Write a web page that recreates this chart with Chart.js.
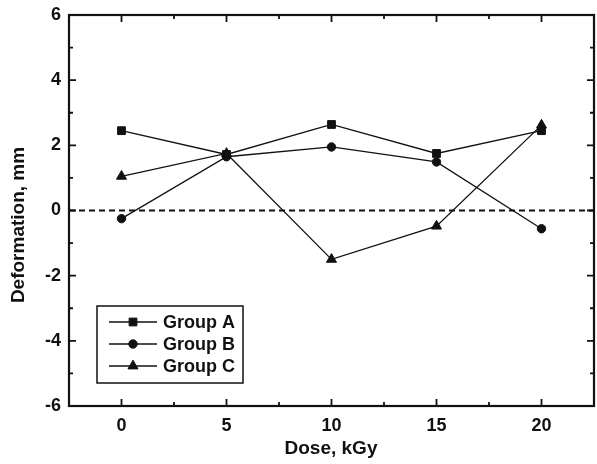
<!DOCTYPE html>
<html>
<head>
<meta charset="utf-8">
<script src="https://cdn.jsdelivr.net/npm/chart.js@4.4.1/dist/chart.umd.min.js"></script>
<style>
  body { margin: 0; background: #fff; }
  #wrap { width: 597px; height: 464px; }
</style>
</head>
<body>
<div id="wrap"><canvas id="chart"></canvas></div>
<script>
// data
const doses = [0, 5, 10, 15, 20];
const groupA = [2.45, 1.72, 2.64, 1.75, 2.45];
const groupB = [-0.25, 1.65, 1.95, 1.49, -0.56];
const groupC = [1.05, 1.75, -1.5, -0.48, 2.62];
const xTickLabels = [0, 5, 10, 15, 20];
const yTickLabels = [-6, -4, -2, 0, 2, 4, 6];

const FONT = "'Liberation Sans', Arial, sans-serif";

const seriesInfo = [
  { label: "Group A", data: groupA, style: "rect", radius: 5.5 },
  { label: "Group B", data: groupB, style: "circle", radius: 4.2 },
  { label: "Group C", data: groupC, style: "triangle", radius: 5.8 },
];

const datasets = seriesInfo.map((s) => ({
  label: s.label,
  data: doses.map((d, i) => ({ x: d, y: s.data[i] })),
  showLine: true,
  borderColor: "#111",
  borderWidth: 1.3,
  pointStyle: s.style,
  pointRadius: s.radius,
  pointBackgroundColor: "#111",
  pointBorderColor: "#111",
  pointBorderWidth: 1,
}));

// dashed zero line across the whole axis
datasets.push({
  label: "zero",
  data: [{ x: -2.5, y: 0 }, { x: 22.5, y: 0 }],
  showLine: true,
  borderColor: "#111",
  borderWidth: 2,
  borderDash: [6, 4],
  pointRadius: 0,
});

// --- frame, ticks, titles and legend ---
const framePlugin = {
  id: "frame",
  afterDatasetsDraw(chart) {
    const { ctx, chartArea: a, scales } = chart;
    const xs = scales.x, ys = scales.y;
    ctx.save();
    ctx.strokeStyle = "#111";

    // tick marks pointing inward on all four sides
    ctx.lineWidth = 1.8;
    xs.ticks.forEach((t) => {
      const px = xs.getPixelForValue(t.value);
      const len = xTickLabels.includes(t.value) ? 7 : 4;
      ctx.beginPath();
      ctx.moveTo(px, a.bottom); ctx.lineTo(px, a.bottom - len);
      ctx.moveTo(px, a.top); ctx.lineTo(px, a.top + len);
      ctx.stroke();
    });
    ys.ticks.forEach((t) => {
      const py = ys.getPixelForValue(t.value);
      const len = yTickLabels.includes(t.value) ? 7 : 4;
      ctx.beginPath();
      ctx.moveTo(a.left, py); ctx.lineTo(a.left + len, py);
      ctx.moveTo(a.right, py); ctx.lineTo(a.right - len, py);
      ctx.stroke();
    });

    // box
    ctx.lineWidth = 2.2;
    ctx.strokeRect(a.left, a.top, a.right - a.left, a.bottom - a.top);

    // axis titles
    ctx.fillStyle = "#111";
    ctx.font = "bold 19px " + FONT;
    ctx.textAlign = "center";
    ctx.textBaseline = "middle";
    ctx.fillText("Dose, kGy", 331, 449);
    ctx.save();
    ctx.translate(19, 225);
    ctx.rotate(-Math.PI / 2);
    ctx.fillText("Deformation, mm", 0, 0);
    ctx.restore();

    // legend
    const lx = 97, ly = 306, lw = 146, lh = 77;
    ctx.fillStyle = "#fff";
    ctx.fillRect(lx, ly, lw, lh);
    ctx.lineWidth = 1.5;
    ctx.strokeRect(lx, ly, lw, lh);
    const rows = [322, 344, 366];
    ctx.font = "bold 18px " + FONT;
    ctx.textAlign = "left";
    seriesInfo.forEach((s, i) => {
      const y = rows[i];
      ctx.strokeStyle = "#111";
      ctx.lineWidth = 1.3;
      ctx.beginPath();
      ctx.moveTo(109, y); ctx.lineTo(157, y);
      ctx.stroke();
      ctx.fillStyle = "#111";
      ctx.lineWidth = 1;
      Chart.helpers.drawPoint(ctx, { pointStyle: s.style, radius: s.radius, rotation: 0, borderWidth: 1 }, 133, y);
      ctx.fillStyle = "#111";
      ctx.fillText(s.label, 163, y + 1);
    });
    ctx.restore();
  },
};

new Chart(document.getElementById("chart"), {
  type: "scatter",
  data: { datasets },
  plugins: [framePlugin],
  options: {
    responsive: true,
    maintainAspectRatio: false,
    animation: false,
    layout: { autoPadding: false, padding: { top: 15, right: 3, left: 0, bottom: 0 } },
    plugins: { legend: { display: false }, tooltip: { enabled: false } },
    scales: {
      x: {
        type: "linear",
        min: -2.5,
        max: 22.5,
        afterFit: (s) => { s.height = 58; s.paddingLeft = 0; s.paddingRight = 0; },
        grid: { display: false, drawTicks: false },
        border: { display: false },
        ticks: {
          stepSize: 2.5,
          padding: 9,
          color: "#111",
          font: { family: FONT, size: 18, weight: "bold" },
          maxRotation: 0,
          autoSkip: false,
          callback: (v) => (xTickLabels.includes(v) ? String(v) : ""),
        },
      },
      y: {
        min: -6,
        max: 6,
        afterFit: (s) => { s.width = 69; s.paddingTop = 0; s.paddingBottom = 0; },
        grid: { display: false, drawTicks: false },
        border: { display: false },
        ticks: {
          stepSize: 1,
          padding: 8,
          color: "#111",
          font: { family: FONT, size: 18, weight: "bold" },
          autoSkip: false,
          callback: (v) => (yTickLabels.includes(v) ? String(v) : ""),
        },
      },
    },
  },
});
</script>
</body>
</html>
